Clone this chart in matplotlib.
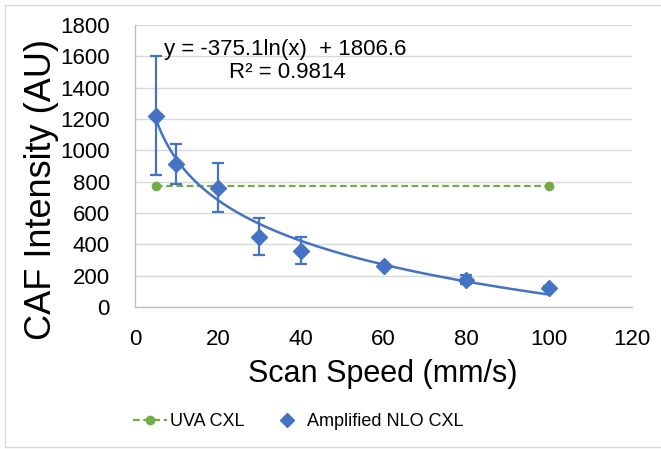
import numpy as np
import matplotlib
matplotlib.use("Agg")
import matplotlib.pyplot as plt
from matplotlib.lines import Line2D
from matplotlib.patches import Rectangle

plt.rcParams['font.family'] = ['Liberation Sans', 'DejaVu Sans']

# data
scan_speed = [5, 10, 20, 30, 40, 60, 80, 100]
nlo_intensity = [1222, 913, 762, 450, 360, 262, 174, 124]
nlo_error = [382, 130, 157, 120, 85, 15, 30, 8]
uva_speed = [5, 100]
uva_intensity = [773, 773]
fit_a = -375.1
fit_b = 1806.6

blue = '#4472C4'
green = '#70AD47'
grid = '#D9D9D9'

fig = plt.figure(figsize=(6.61, 4.49), dpi=100)
ax = fig.add_axes([135/661, 1 - 307/449, (632 - 135)/661, (307 - 25)/449])

# chart border like the excel chart frame (right side runs off the picture)
fig.patches.append(Rectangle((5/661, 2/449), 1.1, 1 - 7/449, transform=fig.transFigure,
                             fill=False, edgecolor='#D9D9D9', linewidth=1))

ax.plot(uva_speed, uva_intensity, color=green, linestyle='--', dashes=(3, 1.6), linewidth=1.6,
        marker='o', markersize=6, zorder=3)

xs = np.linspace(scan_speed[0], scan_speed[-1], 300)
ax.plot(xs, fit_a * np.log(xs) + fit_b, color=blue, linewidth=1.8, zorder=3)

ax.errorbar(scan_speed, nlo_intensity, yerr=nlo_error, fmt='D', color=blue, markersize=8.5,
            elinewidth=1.6, capsize=4, capthick=1.6, zorder=4)

ax.set_xlim(0, 120)
ax.set_ylim(0, 1800)
ax.set_xticks(range(0, 121, 20))
ax.set_yticks(range(0, 1801, 200))
ax.tick_params(length=0, labelsize=16, colors='black')
ax.tick_params(axis='x', pad=16)
ax.tick_params(axis='y', pad=18)
ax.yaxis.grid(True, color=grid, linewidth=1)
ax.set_axisbelow(True)
for side in ['top', 'right']:
    ax.spines[side].set_visible(False)
for side in ['left', 'bottom']:
    ax.spines[side].set_color('#BFBFBF')
    ax.spines[side].set_linewidth(1)

fig.text(383/661, 1 - 382/449, 'Scan Speed (mm/s)', fontsize=22, ha='center', va='baseline')
fig.text(42/661, 1 - 189/449, 'CAF Intensity (AU)', fontsize=26, ha='center', va='center',
         rotation=90)

ax.text(285/661, 1 - 49/449, 'y = -375.1ln(x)  + 1806.6', fontsize=16, ha='center', va='center',
        transform=fig.transFigure)
ax.text(287/661, 1 - 73/449, 'R² = 0.9814', fontsize=16, ha='center', va='center',
        transform=fig.transFigure)

handles = [
    Line2D([], [], color=green, linestyle='--', dashes=(3, 1.6), linewidth=1.6, marker='o', markersize=6),
    Line2D([], [], color=blue, linestyle='none', marker='D', markersize=7),
]
fig.legend(handles, ['UVA CXL', 'Amplified NLO CXL'], loc='center', bbox_to_anchor=(298/661, 1 - 422/449),
           ncol=2, frameon=False, fontsize=13, handlelength=1.9, handletextpad=0.15, columnspacing=1.4)

fig.savefig('out.png', dpi=100)
